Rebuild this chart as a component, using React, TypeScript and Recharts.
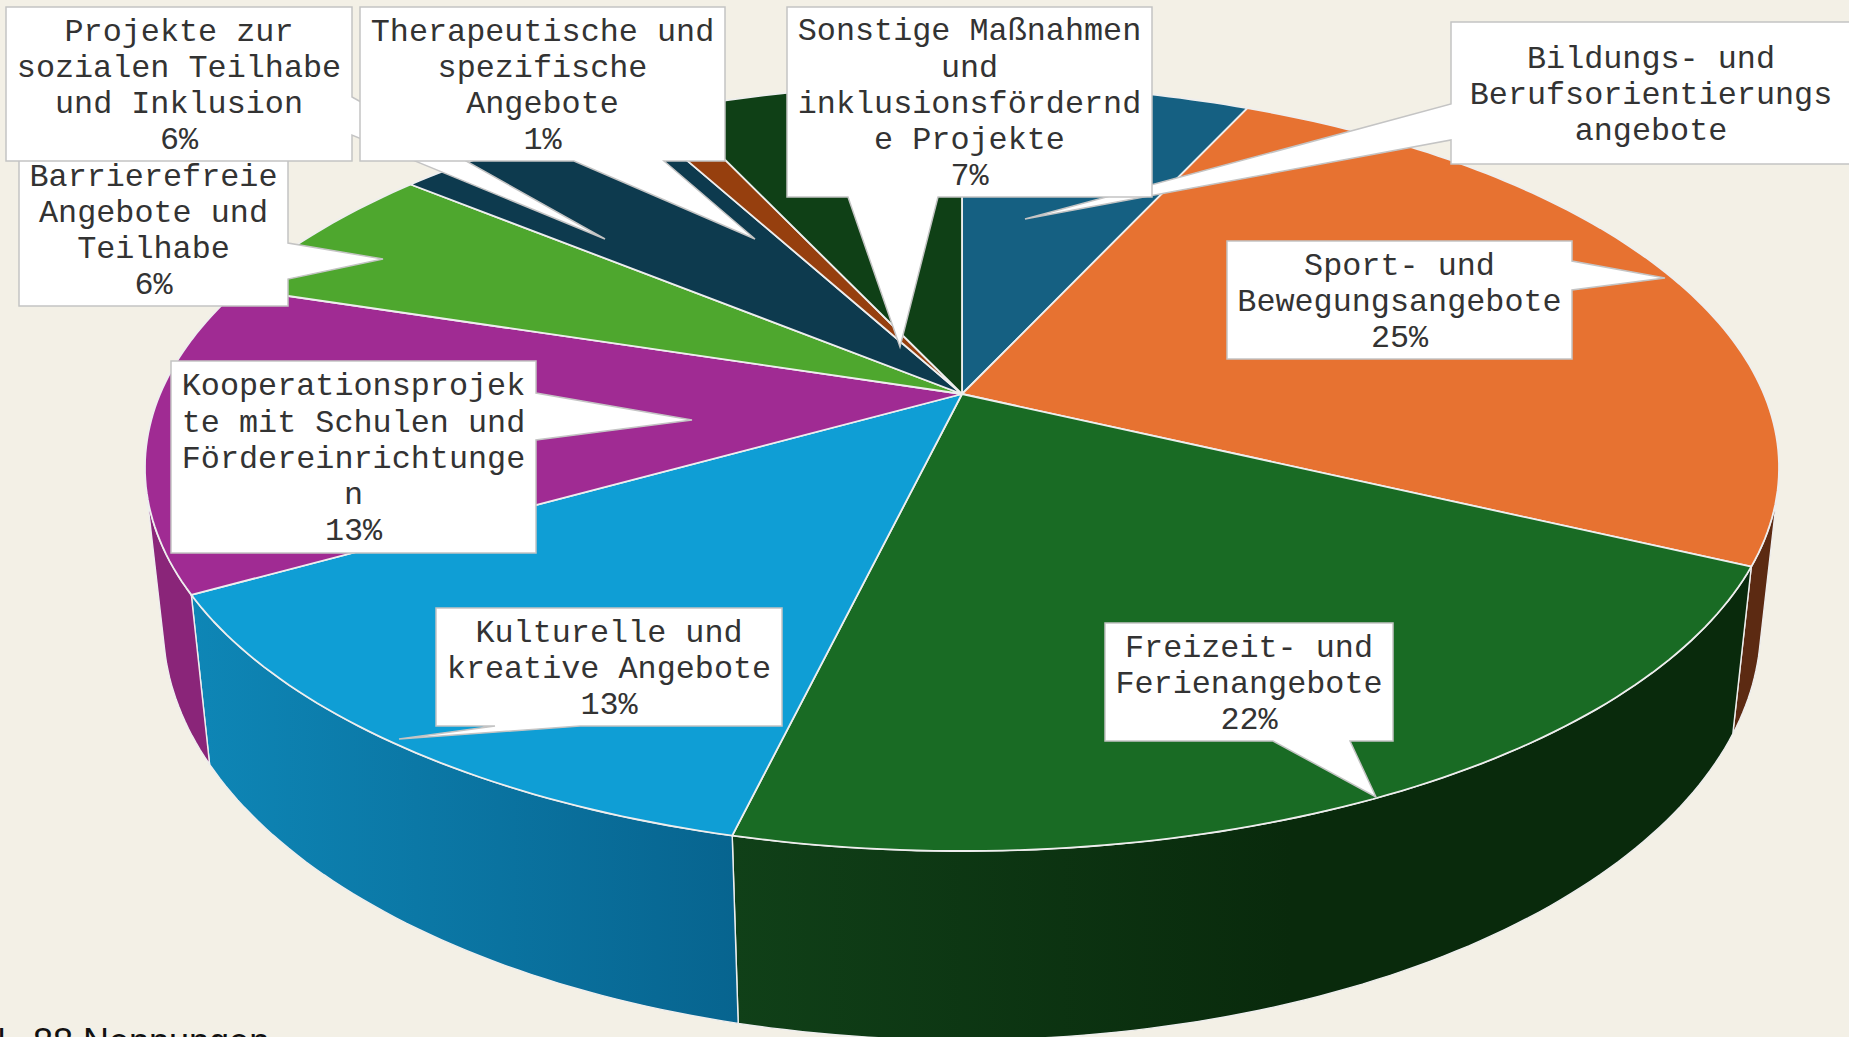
import React from 'react';
import { PieChart, Pie } from 'recharts';

const categories = [
  'Bildungs- und Berufsorientierungsangebote',
  'Sport- und Bewegungsangebote',
  'Freizeit- und Ferienangebote',
  'Kulturelle und kreative Angebote',
  'Kooperationsprojekte mit Schulen und Fördereinrichtungen',
  'Barrierefreie Angebote und Teilhabe',
  'Projekte zur sozialen Teilhabe und Inklusion',
  'Therapeutische und spezifische Angebote',
  'Sonstige Maßnahmen und inklusionsfördernde Projekte',
];
const shares = [6.86, 25.19, 21.69, 13.06, 13.06, 6.11, 6.11, 0.97, 6.94];
const topColors = ['#156082', '#e77231', '#196b24', '#0f9ed5', '#a02b93', '#4ea72e', '#0d3a4e', '#963f0e', '#0f4016'];
const wallFrom = ['#115070', '#5c2a12', '#104018', '#0e86b6', '#8a2579', '#3d8324', '#0a2e3e', '#74310b', '#0c3312'];
const wallTo = ['#115070', '#5c2a12', '#092a0c', '#07648f', '#8a2579', '#3d8324', '#0a2e3e', '#74310b', '#0c3312'];
const wallStop = [1, 1, 0.55, 1, 1, 1, 1, 1, 1];

// wrapped exactly like the boxes in the picture
const labelLines = [
  ['Bildungs- und', 'Berufsorientierungs', 'angebote'],
  ['Sport- und', 'Bewegungsangebote', '25%'],
  ['Freizeit- und', 'Ferienangebote', '22%'],
  ['Kulturelle und', 'kreative Angebote', '13%'],
  ['Kooperationsprojek', 'te mit Schulen und', 'Fördereinrichtunge', 'n', '13%'],
  ['Barrierefreie', 'Angebote und', 'Teilhabe', '6%'],
  ['Projekte zur', 'sozialen Teilhabe', 'und Inklusion', '6%'],
  ['Therapeutische und', 'spezifische', 'Angebote', '1%'],
  ['Sonstige Maßnahmen', 'und', 'inklusionsfördernd', 'e Projekte', '7%'],
];

const table = categories.map((name, i) => ({
  name,
  value: shares[i],
  fill: topColors[i],
  wallFrom: wallFrom[i],
  wallTo: wallTo[i],
  wallStop: wallStop[i],
}));

// callout boxes: box, which side the wedge leaves from, wedge base a-b along that side, tip
const callouts = [
  { x: 1451, y: 22, w: 400, h: 142, side: 'left', a: 104, b: 140, tx: 1025, ty: 219 },
  { x: 1227, y: 241, w: 345, h: 118, side: 'right', a: 261, b: 290, tx: 1665, ty: 278 },
  { x: 1105, y: 623, w: 288, h: 118, side: 'bottom', a: 1273, b: 1350, tx: 1376, ty: 797 },
  { x: 436, y: 608, w: 346, h: 118, side: 'bottom', a: 495, b: 580, tx: 399, ty: 739 },
  { x: 171, y: 361, w: 365, h: 192, side: 'right', a: 393, b: 440, tx: 692, ty: 420 },
  { x: 19, y: 152, w: 269, h: 154, side: 'right', a: 243, b: 279, tx: 383, ty: 259 },
  { x: 6, y: 7, w: 346, h: 154, side: 'right', a: 97, b: 135, tx: 605, ty: 239 },
  { x: 360, y: 7, w: 365, h: 154, side: 'bottom', a: 574, b: 664, tx: 755, ty: 239 },
  { x: 787, y: 7, w: 365, h: 190, side: 'bottom', a: 848, b: 938, tx: 900, ty: 347 },
];

const PIE_X = 962;
const PIE_Y = 394;
const RADIUS = 801.9;
const TILT = 0.4607; // vertical squash of the top disc
const PERSPECTIVE = -0.1917;
// the bottom disc has its own perspective
const BASE_Y = 547.1;
const BASE_RADIUS = 784.6;
const BASE_TILT = 0.5103;
const BASE_PERSPECTIVE = -0.1877;
const LINE_HEIGHT = 36.2;
const EDGE = '#eeeeee';

const disc = (angle: number, y0: number, radius: number, tilt: number, persp: number) => {
  const rad = (angle * Math.PI) / 180;
  const u = Math.cos(rad);
  const v = -Math.sin(rad);
  const w = 1 + persp * v;
  return [PIE_X + (radius * u) / w, y0 + (radius * tilt * v) / w];
};

const topPoint = (a: number) => disc(a, PIE_Y, RADIUS, TILT, PERSPECTIVE);
const basePoint = (a: number) => disc(a, BASE_Y, BASE_RADIUS, BASE_TILT, BASE_PERSPECTIVE);

const arc = (start: number, end: number, point: (a: number) => number[]) => {
  const steps = Math.max(2, Math.ceil(Math.abs(end - start)));
  const pts: number[][] = [];
  for (let i = 0; i <= steps; i++) pts.push(point(start + ((end - start) * i) / steps));
  return pts;
};

const toPath = (pts: number[][]) => pts.map((p, i) => `${i ? 'L' : 'M'}${p[0].toFixed(1)} ${p[1].toFixed(1)}`).join(' ') + ' Z';

// signed area of one small strip of wall, used to tell front faces from back faces
const stripArea = (a: number, b: number) => {
  const q = [topPoint(a), topPoint(b), basePoint(b), basePoint(a)];
  let area = 0;
  q.forEach((p, i) => {
    const n = q[(i + 1) % 4];
    area += p[0] * n[1] - n[0] * p[1];
  });
  return area;
};
const FRONT = Math.sign(stripArea(-90, -91));

const TopSlice = (props: any) => (
  <path
    d={toPath([[PIE_X, PIE_Y], ...arc(props.startAngle, props.endAngle, topPoint)])}
    fill={props.fill}
    stroke={EDGE}
    strokeWidth={1.8}
    strokeLinejoin="round"
  />
);

const WallSlice = (props: any) => {
  // only the part of the slice that faces the viewer, otherwise the strip folds over itself
  const { startAngle, endAngle } = props;
  const count = Math.max(2, Math.ceil(Math.abs(endAngle - startAngle) * 4));
  const d = (endAngle - startAngle) / count;
  let from: number | null = null;
  let to: number | null = null;
  for (let i = 0; i < count; i++) {
    const a = startAngle + d * i;
    if (Math.sign(stripArea(a, a + d)) === FRONT) {
      if (from === null) from = a;
      to = a + d;
    }
  }
  if (from === null || to === null) return null;

  const top = arc(from, to, topPoint);
  const base = arc(from, to, basePoint).reverse();
  const id = `wall-${Math.round(startAngle * 10)}`;
  const entry = props.payload || props;
  return (
    <g>
      <defs>
        <linearGradient id={id} x1="0" y1="0" x2="1" y2="0">
          <stop offset="0" stopColor={entry.wallFrom} />
          <stop offset={entry.wallStop} stopColor={entry.wallTo} />
        </linearGradient>
      </defs>
      <path d={toPath([...top, ...base])} fill={`url(#${id})`} stroke={EDGE} strokeWidth={1.4} strokeLinejoin="round" />
    </g>
  );
};

const calloutPath = (c: (typeof callouts)[number]) => {
  const r = c.x + c.w;
  const b = c.y + c.h;
  const pts: number[][] = [[c.x, c.y], [r, c.y]];
  if (c.side === 'right') pts.push([r, c.a], [c.tx, c.ty], [r, c.b]);
  pts.push([r, b]);
  if (c.side === 'bottom') pts.push([c.b, b], [c.tx, c.ty], [c.a, b]);
  pts.push([c.x, b]);
  if (c.side === 'left') pts.push([c.x, c.b], [c.tx, c.ty], [c.x, c.a]);
  return toPath(pts);
};

const renderCallout = (props: any) => {
  const c = callouts[props.index];
  const lines = labelLines[props.index];
  const first = c.y + c.h / 2 - (lines.length * LINE_HEIGHT) / 2 + 28.9;
  return (
    <g key={props.index}>
      <path d={calloutPath(c)} fill="#ffffff" stroke="#c4c4c4" strokeWidth={1.5} />
      <text fontFamily="'Liberation Mono', monospace" fontSize={31.8} fill="#333333" textAnchor="middle">
        {lines.map((line, i) => (
          <tspan key={i} x={c.x + c.w / 2} y={first + i * LINE_HEIGHT}>
            {line}
          </tspan>
        ))}
      </text>
    </g>
  );
};

export default function App() {
  return (
    <div style={{ position: 'absolute', left: 0, top: 0, width: 1849, height: 1037, background: '#f3f0e6', overflow: 'hidden' }}>
      <PieChart width={1849} height={1037} margin={{ top: 0, right: 0, bottom: 0, left: 0 }}>
        <Pie
          data={table}
          dataKey="value"
          nameKey="name"
          cx={PIE_X}
          cy={PIE_Y}
          outerRadius={RADIUS}
          startAngle={90}
          endAngle={-270}
          shape={WallSlice}
          isAnimationActive={false}
        />
        <Pie
          data={table}
          dataKey="value"
          nameKey="name"
          cx={PIE_X}
          cy={PIE_Y}
          outerRadius={RADIUS}
          startAngle={90}
          endAngle={-270}
          shape={TopSlice}
          label={renderCallout}
          labelLine={false}
          isAnimationActive={false}
        />
      </PieChart>
      <div style={{ position: 'absolute', left: -20, top: 1021, fontFamily: "'Liberation Sans', sans-serif", fontSize: 36, color: '#111', whiteSpace: 'nowrap' }}>
        N<span style={{ fontSize: 29 }}>=</span> 88 Nennungen
      </div>
    </div>
  );
}
